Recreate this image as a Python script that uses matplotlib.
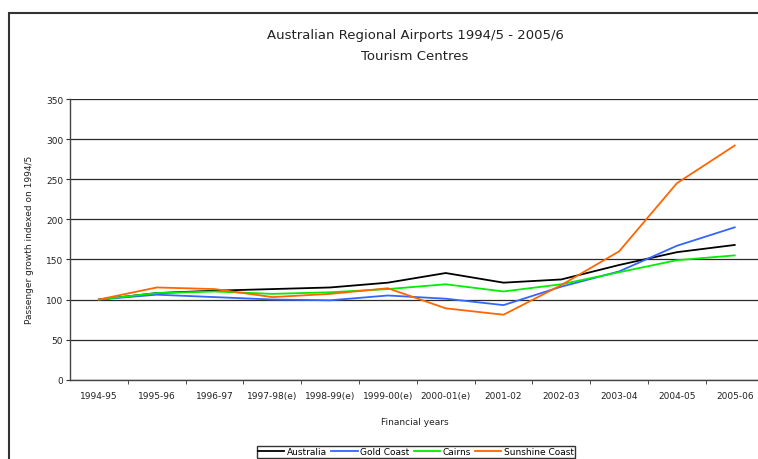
import matplotlib
matplotlib.use("Agg")
import matplotlib.pyplot as plt
from matplotlib.patches import Rectangle
import numpy as np

years = ["1994-95", "1995-96", "1996-97", "1997-98(e)", "1998-99(e)", "1999-00(e)",
         "2000-01(e)", "2001-02", "2002-03", "2003-04", "2004-05", "2005-06"]
australia = [100, 108, 111, 113, 115, 121, 133, 121, 125, 143, 159, 168]
gold_coast = [100, 106, 103, 100, 99, 105, 101, 93, 116, 135, 167, 190]
cairns = [100, 108, 110, 107, 109, 113, 119, 110, 119, 134, 149, 155]
sunshine = [100, 115, 113, 103, 107, 114, 89, 81, 118, 160, 245, 292]

W, H = 758, 460
fig = plt.figure(figsize=(W / 100, H / 100), dpi=100)
fig.patch.set_facecolor("white")

# outer frame
fig.patches.append(Rectangle((9 / W, -0.1), 1.2, 1.1 - 14 / H, transform=fig.transFigure,
                             fill=False, edgecolor="#333333", linewidth=1.5, zorder=0))

ax = fig.add_axes([70 / W, (H - 380.7) / H, 693.6 / W, 280.7 / H])
x = np.arange(len(years))
ax.plot(x, australia, color="black", lw=1.3, label="Australia")
ax.plot(x, gold_coast, color="#3366ff", lw=1.3, label="Gold Coast")
ax.plot(x, cairns, color="#00ee00", lw=1.3, label="Cairns")
ax.plot(x, sunshine, color="#ff6600", lw=1.3, label="Sunshine Coast")

ax.set_xlim(-0.5, len(years) - 0.5)
ax.set_ylim(0, 350)
ax.set_yticks(np.arange(0, 351, 50))
ax.yaxis.grid(True, color="#2a2a2a", lw=0.9)
ax.set_axisbelow(True)
ax.set_xticks(x)
ax.set_xticklabels(years)
ax.set_xticks(np.arange(0.5, len(years) - 0.5, 1), minor=True)
ax.tick_params(axis="x", which="major", length=0, pad=8, labelsize=6.5, colors="#222222")
ax.tick_params(axis="x", which="minor", length=3, color="#333333", direction="out")
ax.tick_params(axis="y", length=3, color="#333333", labelsize=6.5, labelcolor="#222222", pad=2)
for s in ["top", "right"]:
    ax.spines[s].set_visible(False)
for s in ["left", "bottom"]:
    ax.spines[s].set_color("#444444")
    ax.spines[s].set_linewidth(1.0)

fig.text(415 / W, 1 - 36 / H, "Australian Regional Airports 1994/5 - 2005/6",
         ha="center", va="center", fontsize=9.5, color="#222222")
fig.text(415 / W, 1 - 56 / H, "Tourism Centres",
         ha="center", va="center", fontsize=9.5, color="#222222")
fig.text(30 / W, (H - 240) / H, "Passenger growth indexed on 1994/5", rotation=90,
         ha="center", va="center", fontsize=6.5, color="#222222")
fig.text(415 / W, 1 - 423 / H, "Financial years", ha="center", va="center",
         fontsize=6.5, color="#222222")

leg = fig.legend(loc="center", bbox_to_anchor=(416 / W, 1 - 453 / H), ncol=4,
                 fontsize=6.5, frameon=True, fancybox=False, edgecolor="black",
                 handlelength=2.9, handletextpad=0.3, columnspacing=0.45,
                 borderpad=0.15, borderaxespad=0)
leg.get_frame().set_linewidth(1.0)

fig.savefig("out.png", dpi=100)
